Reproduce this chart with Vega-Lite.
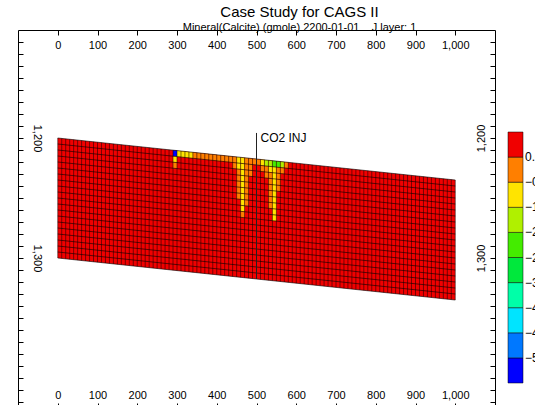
{
  "$schema": "https://vega.github.io/schema/vega-lite/v6.json",
  "width": 477,
  "height": 378,
  "autosize": {"type": "none"},
  "padding": {"left": 18, "top": 30, "right": 40, "bottom": 0},
  "background": "white",
  "config": {
    "font": "Liberation Sans",
    "view": {"stroke": null},
    "axis": {"domainColor": "#000", "tickColor": "#000", "labelColor": "#000", "labelFont": "Liberation Sans", "labelFontSize": 11, "grid": false, "title": null, "domainWidth": 1, "tickWidth": 1, "labelOverlap": false, "labelBound": false, "labelFlush": false}
  },
  "title": {
    "text": "Case Study for CAGS II",
    "subtitle": "Mineral(Calcite) (gmole) 2200-01-01\u00a0\u00a0\u00a0\u00a0J layer: 1",
    "fontSize": 15,
    "fontWeight": "normal",
    "subtitleFontSize": 11,
    "subtitleColor": "#000",
    "color": "#000",
    "anchor": "middle",
    "dx": 43,
    "offset": -3,
    "subtitlePadding": 2
  },
  "resolve": {"axis": {"x": "independent", "y": "independent"}},
  "layer": [
    {
      "data": {"values": [
        {"x": 0, "t": 1200, "b": 1300, "v": 0.35},
        {"x": 1000, "t": 1235, "b": 1335, "v": 0.35}
      ]},
      "mark": {"type": "area", "interpolate": "linear"},
      "encoding": {
        "x": {"field": "x", "type": "quantitative", "scale": {"domain": [-100, 1100], "nice": false, "zero": false},
          "axis": {"orient": "bottom", "values": [0, 100, 200, 300, 400, 500, 600, 700, 800, 900, 1000], "format": ",d", "tickSize": -5, "labelPadding": -8, "labelBaseline": "middle"}},
        "y": {"field": "t", "type": "quantitative", "scale": {"domain": [1110, 1425], "reverse": true, "nice": false, "zero": false},
          "axis": {"orient": "left", "values": [1120,1130,1140,1150,1160,1170,1180,1190,1200,1210,1220,1230,1240,1250,1260,1270,1280,1290,1300,1310,1320,1330,1340,1350,1360,1370,1380,1390,1400,1410,1420],
            "labelExpr": "datum.value == 1200 || datum.value == 1300 ? format(datum.value, ',') : ''", "tickSize": -5, "labelPadding": -19, "labelAngle": 90, "labelAlign": "center", "labelBaseline": "top"}},
        "y2": {"field": "b"},
        "color": {"field": "v", "type": "quantitative",
          "scale": {"type": "quantize", "domain": [-6.3, 0.7], "nice": false, "zero": false,
            "range": ["#0000ff", "#0078ff", "#00e4ff", "#00ffa8", "#00e83c", "#44ec00", "#b0f000", "#ffe400", "#ff7f00", "#f00000"]},
          "legend": {"type": "gradient", "orient": "none", "legendX": 490, "legendY": 102, "direction": "vertical", "gradientLength": 251, "gradientThickness": 15, "title": null,
            "labelFontSize": 12, "labelOffset": 2, "labelColor": "#000", "labelOverlap": false,
            "values": [-6.3, -5.6, -4.9, -4.2, -3.5, -2.8, -2.1, -1.4, -0.7, 0], "format": ".2f",
            "gradientStrokeColor": "#000", "gradientStrokeWidth": 0.5}}
      }
    },
    {
      "data": {"values": [
        {"x": 290, "x2": 300, "z": 1210.3, "z2": 1215.3, "v": -6.0},
        {"x": 300, "x2": 310, "z": 1210.7, "z2": 1215.7, "v": -1.0},
        {"x": 310, "x2": 320, "z": 1211.0, "z2": 1216.0, "v": -1.0},
        {"x": 320, "x2": 330, "z": 1211.4, "z2": 1216.4, "v": -1.0},
        {"x": 330, "x2": 340, "z": 1211.7, "z2": 1216.7, "v": -1.0},
        {"x": 340, "x2": 350, "z": 1212.1, "z2": 1217.1, "v": -0.4},
        {"x": 350, "x2": 360, "z": 1212.4, "z2": 1217.4, "v": -0.4},
        {"x": 360, "x2": 370, "z": 1212.8, "z2": 1217.8, "v": -0.4},
        {"x": 370, "x2": 380, "z": 1213.1, "z2": 1218.1, "v": -0.4},
        {"x": 380, "x2": 390, "z": 1213.5, "z2": 1218.5, "v": -0.4},
        {"x": 390, "x2": 400, "z": 1213.8, "z2": 1218.8, "v": -0.4},
        {"x": 400, "x2": 410, "z": 1214.2, "z2": 1219.2, "v": -0.4},
        {"x": 410, "x2": 420, "z": 1214.5, "z2": 1219.5, "v": -0.4},
        {"x": 420, "x2": 430, "z": 1214.9, "z2": 1219.9, "v": -0.4},
        {"x": 430, "x2": 440, "z": 1215.2, "z2": 1220.2, "v": -0.4},
        {"x": 440, "x2": 450, "z": 1215.6, "z2": 1220.6, "v": -0.4},
        {"x": 450, "x2": 460, "z": 1215.9, "z2": 1220.9, "v": -1.0},
        {"x": 460, "x2": 470, "z": 1216.3, "z2": 1221.3, "v": -1.0},
        {"x": 470, "x2": 480, "z": 1216.6, "z2": 1221.6, "v": -0.4},
        {"x": 480, "x2": 490, "z": 1217.0, "z2": 1222.0, "v": -0.4},
        {"x": 490, "x2": 500, "z": 1217.3, "z2": 1222.3, "v": -0.4},
        {"x": 500, "x2": 510, "z": 1217.7, "z2": 1222.7, "v": -0.4},
        {"x": 510, "x2": 520, "z": 1218.0, "z2": 1223.0, "v": -1.0},
        {"x": 520, "x2": 530, "z": 1218.4, "z2": 1223.4, "v": -1.6},
        {"x": 530, "x2": 540, "z": 1218.7, "z2": 1223.7, "v": -1.8},
        {"x": 540, "x2": 550, "z": 1219.1, "z2": 1224.1, "v": -2.3},
        {"x": 550, "x2": 560, "z": 1219.4, "z2": 1224.4, "v": -2.3},
        {"x": 560, "x2": 570, "z": 1219.8, "z2": 1224.8, "v": -1.8},
        {"x": 570, "x2": 580, "z": 1220.1, "z2": 1225.1, "v": -0.4},
        {"x": 290, "x2": 300, "z": 1215.3, "z2": 1220.3, "v": -1.0},
        {"x": 440, "x2": 450, "z": 1220.6, "z2": 1225.6, "v": -0.4},
        {"x": 450, "x2": 460, "z": 1220.9, "z2": 1225.9, "v": -1.0},
        {"x": 460, "x2": 470, "z": 1221.3, "z2": 1226.3, "v": -1.0},
        {"x": 470, "x2": 480, "z": 1221.6, "z2": 1226.6, "v": -0.4},
        {"x": 480, "x2": 490, "z": 1222.0, "z2": 1227.0, "v": -0.4},
        {"x": 510, "x2": 520, "z": 1223.0, "z2": 1228.0, "v": -0.4},
        {"x": 520, "x2": 530, "z": 1223.4, "z2": 1228.4, "v": -0.4},
        {"x": 530, "x2": 540, "z": 1223.7, "z2": 1228.7, "v": -1.0},
        {"x": 540, "x2": 550, "z": 1224.1, "z2": 1229.1, "v": -1.0},
        {"x": 550, "x2": 560, "z": 1224.4, "z2": 1229.4, "v": -0.4},
        {"x": 560, "x2": 570, "z": 1224.8, "z2": 1229.8, "v": -0.4},
        {"x": 290, "x2": 300, "z": 1220.3, "z2": 1225.3, "v": -0.4},
        {"x": 450, "x2": 460, "z": 1225.9, "z2": 1230.9, "v": -0.4},
        {"x": 460, "x2": 470, "z": 1226.3, "z2": 1231.3, "v": -1.0},
        {"x": 470, "x2": 480, "z": 1226.6, "z2": 1231.6, "v": -0.4},
        {"x": 480, "x2": 490, "z": 1227.0, "z2": 1232.0, "v": -0.4},
        {"x": 520, "x2": 530, "z": 1228.4, "z2": 1233.4, "v": -0.4},
        {"x": 530, "x2": 540, "z": 1228.7, "z2": 1233.7, "v": -0.4},
        {"x": 540, "x2": 550, "z": 1229.1, "z2": 1234.1, "v": -1.0},
        {"x": 550, "x2": 560, "z": 1229.4, "z2": 1234.4, "v": -0.4},
        {"x": 450, "x2": 460, "z": 1230.9, "z2": 1235.9, "v": -0.4},
        {"x": 460, "x2": 470, "z": 1231.3, "z2": 1236.3, "v": -1.0},
        {"x": 470, "x2": 480, "z": 1231.6, "z2": 1236.6, "v": -0.4},
        {"x": 530, "x2": 540, "z": 1233.7, "z2": 1238.7, "v": -0.4},
        {"x": 540, "x2": 550, "z": 1234.1, "z2": 1239.1, "v": -1.0},
        {"x": 550, "x2": 560, "z": 1234.4, "z2": 1239.4, "v": -0.4},
        {"x": 450, "x2": 460, "z": 1235.9, "z2": 1240.9, "v": -0.4},
        {"x": 460, "x2": 470, "z": 1236.3, "z2": 1241.3, "v": -1.0},
        {"x": 470, "x2": 480, "z": 1236.6, "z2": 1241.6, "v": -0.4},
        {"x": 530, "x2": 540, "z": 1238.7, "z2": 1243.7, "v": -0.4},
        {"x": 540, "x2": 550, "z": 1239.1, "z2": 1244.1, "v": -1.0},
        {"x": 550, "x2": 560, "z": 1239.4, "z2": 1244.4, "v": -0.4},
        {"x": 450, "x2": 460, "z": 1240.9, "z2": 1245.9, "v": -0.4},
        {"x": 460, "x2": 470, "z": 1241.3, "z2": 1246.3, "v": -1.0},
        {"x": 470, "x2": 480, "z": 1241.6, "z2": 1246.6, "v": -0.4},
        {"x": 530, "x2": 540, "z": 1243.7, "z2": 1248.7, "v": -0.4},
        {"x": 540, "x2": 550, "z": 1244.1, "z2": 1249.1, "v": -1.0},
        {"x": 450, "x2": 460, "z": 1245.9, "z2": 1250.9, "v": -0.4},
        {"x": 460, "x2": 470, "z": 1246.3, "z2": 1251.3, "v": -1.0},
        {"x": 470, "x2": 480, "z": 1246.6, "z2": 1251.6, "v": -0.4},
        {"x": 530, "x2": 540, "z": 1248.7, "z2": 1253.7, "v": -0.4},
        {"x": 540, "x2": 550, "z": 1249.1, "z2": 1254.1, "v": -1.0},
        {"x": 460, "x2": 470, "z": 1251.3, "z2": 1256.3, "v": -1.0},
        {"x": 470, "x2": 480, "z": 1251.6, "z2": 1256.6, "v": -0.4},
        {"x": 530, "x2": 540, "z": 1253.7, "z2": 1258.7, "v": -0.4},
        {"x": 540, "x2": 550, "z": 1254.1, "z2": 1259.1, "v": -1.0},
        {"x": 460, "x2": 470, "z": 1256.3, "z2": 1261.3, "v": -1.0},
        {"x": 540, "x2": 550, "z": 1259.1, "z2": 1264.1, "v": -1.0},
        {"x": 460, "x2": 470, "z": 1261.3, "z2": 1266.3, "v": -0.4},
        {"x": 540, "x2": 550, "z": 1264.1, "z2": 1269.1, "v": -1.0}
      ]},
      "mark": {"type": "rect"},
      "encoding": {
        "x": {"field": "x", "type": "quantitative",
          "axis": {"orient": "top", "values": [0, 100, 200, 300, 400, 500, 600, 700, 800, 900, 1000], "format": ",d", "tickSize": -5, "labelPadding": -10, "labelBaseline": "middle"}},
        "x2": {"field": "x2"},
        "y": {"field": "z", "type": "quantitative",
          "axis": {"orient": "right", "values": [1120,1130,1140,1150,1160,1170,1180,1190,1200,1210,1220,1230,1240,1250,1260,1270,1280,1290,1300,1310,1320,1330,1340,1350,1360,1370,1380,1390,1400,1410,1420],
            "labelExpr": "datum.value == 1200 || datum.value == 1300 ? format(datum.value, ',') : ''", "tickSize": -5, "labelPadding": -9, "labelAngle": 270, "labelAlign": "center", "labelBaseline": "middle"}},
        "y2": {"field": "z2"},
        "color": {"field": "v", "type": "quantitative",
          "scale": {"type": "quantize", "domain": [-6.3, 0.7], "nice": false, "zero": false,
            "range": ["#0000ff", "#0078ff", "#00e4ff", "#00ffa8", "#00e83c", "#44ec00", "#b0f000", "#ffe400", "#ff7f00", "#f00000"]},
          "legend": null}
      }
    },
    {
      "data": {"values": [
        {"x":0,"t":1200,"b":1300},{"x":10,"t":1200.35,"b":1300.35},{"x":20,"t":1200.7,"b":1300.7},{"x":30,"t":1201.05,"b":1301.05},{"x":40,"t":1201.4,"b":1301.4},
        {"x":50,"t":1201.75,"b":1301.75},{"x":60,"t":1202.1,"b":1302.1},{"x":70,"t":1202.45,"b":1302.45},{"x":80,"t":1202.8,"b":1302.8},{"x":90,"t":1203.15,"b":1303.15},
        {"x":100,"t":1203.5,"b":1303.5},{"x":110,"t":1203.85,"b":1303.85},{"x":120,"t":1204.2,"b":1304.2},{"x":130,"t":1204.55,"b":1304.55},{"x":140,"t":1204.9,"b":1304.9},
        {"x":150,"t":1205.25,"b":1305.25},{"x":160,"t":1205.6,"b":1305.6},{"x":170,"t":1205.95,"b":1305.95},{"x":180,"t":1206.3,"b":1306.3},{"x":190,"t":1206.65,"b":1306.65},
        {"x":200,"t":1207,"b":1307},{"x":210,"t":1207.35,"b":1307.35},{"x":220,"t":1207.7,"b":1307.7},{"x":230,"t":1208.05,"b":1308.05},{"x":240,"t":1208.4,"b":1308.4},
        {"x":250,"t":1208.75,"b":1308.75},{"x":260,"t":1209.1,"b":1309.1},{"x":270,"t":1209.45,"b":1309.45},{"x":280,"t":1209.8,"b":1309.8},{"x":290,"t":1210.15,"b":1310.15},
        {"x":300,"t":1210.5,"b":1310.5},{"x":310,"t":1210.85,"b":1310.85},{"x":320,"t":1211.2,"b":1311.2},{"x":330,"t":1211.55,"b":1311.55},{"x":340,"t":1211.9,"b":1311.9},
        {"x":350,"t":1212.25,"b":1312.25},{"x":360,"t":1212.6,"b":1312.6},{"x":370,"t":1212.95,"b":1312.95},{"x":380,"t":1213.3,"b":1313.3},{"x":390,"t":1213.65,"b":1313.65},
        {"x":400,"t":1214,"b":1314},{"x":410,"t":1214.35,"b":1314.35},{"x":420,"t":1214.7,"b":1314.7},{"x":430,"t":1215.05,"b":1315.05},{"x":440,"t":1215.4,"b":1315.4},
        {"x":450,"t":1215.75,"b":1315.75},{"x":460,"t":1216.1,"b":1316.1},{"x":470,"t":1216.45,"b":1316.45},{"x":480,"t":1216.8,"b":1316.8},{"x":490,"t":1217.15,"b":1317.15},
        {"x":500,"t":1217.5,"b":1317.5},{"x":510,"t":1217.85,"b":1317.85},{"x":520,"t":1218.2,"b":1318.2},{"x":530,"t":1218.55,"b":1318.55},{"x":540,"t":1218.9,"b":1318.9},
        {"x":550,"t":1219.25,"b":1319.25},{"x":560,"t":1219.6,"b":1319.6},{"x":570,"t":1219.95,"b":1319.95},{"x":580,"t":1220.3,"b":1320.3},{"x":590,"t":1220.65,"b":1320.65},
        {"x":600,"t":1221,"b":1321},{"x":610,"t":1221.35,"b":1321.35},{"x":620,"t":1221.7,"b":1321.7},{"x":630,"t":1222.05,"b":1322.05},{"x":640,"t":1222.4,"b":1322.4},
        {"x":650,"t":1222.75,"b":1322.75},{"x":660,"t":1223.1,"b":1323.1},{"x":670,"t":1223.45,"b":1323.45},{"x":680,"t":1223.8,"b":1323.8},{"x":690,"t":1224.15,"b":1324.15},
        {"x":700,"t":1224.5,"b":1324.5},{"x":710,"t":1224.85,"b":1324.85},{"x":720,"t":1225.2,"b":1325.2},{"x":730,"t":1225.55,"b":1325.55},{"x":740,"t":1225.9,"b":1325.9},
        {"x":750,"t":1226.25,"b":1326.25},{"x":760,"t":1226.6,"b":1326.6},{"x":770,"t":1226.95,"b":1326.95},{"x":780,"t":1227.3,"b":1327.3},{"x":790,"t":1227.65,"b":1327.65},
        {"x":800,"t":1228,"b":1328},{"x":810,"t":1228.35,"b":1328.35},{"x":820,"t":1228.7,"b":1328.7},{"x":830,"t":1229.05,"b":1329.05},{"x":840,"t":1229.4,"b":1329.4},
        {"x":850,"t":1229.75,"b":1329.75},{"x":860,"t":1230.1,"b":1330.1},{"x":870,"t":1230.45,"b":1330.45},{"x":880,"t":1230.8,"b":1330.8},{"x":890,"t":1231.15,"b":1331.15},
        {"x":900,"t":1231.5,"b":1331.5},{"x":910,"t":1231.85,"b":1331.85},{"x":920,"t":1232.2,"b":1332.2},{"x":930,"t":1232.55,"b":1332.55},{"x":940,"t":1232.9,"b":1332.9},
        {"x":950,"t":1233.25,"b":1333.25},{"x":960,"t":1233.6,"b":1333.6},{"x":970,"t":1233.95,"b":1333.95},{"x":980,"t":1234.3,"b":1334.3},{"x":990,"t":1234.65,"b":1334.65},
        {"x":1000,"t":1235,"b":1335}
      ]},
      "mark": {"type": "rule", "stroke": "#000", "strokeWidth": 0.5},
      "encoding": {
        "x": {"field": "x", "type": "quantitative", "axis": null},
        "y": {"field": "t", "type": "quantitative", "axis": null},
        "y2": {"field": "b"}
      }
    },
    {
      "data": {"values": [
        {"z":1200,"z2":1235},{"z":1205,"z2":1240},{"z":1210,"z2":1245},{"z":1215,"z2":1250},{"z":1220,"z2":1255},
        {"z":1225,"z2":1260},{"z":1230,"z2":1265},{"z":1235,"z2":1270},{"z":1240,"z2":1275},{"z":1245,"z2":1280},
        {"z":1250,"z2":1285},{"z":1255,"z2":1290},{"z":1260,"z2":1295},{"z":1265,"z2":1300},{"z":1270,"z2":1305},
        {"z":1275,"z2":1310},{"z":1280,"z2":1315},{"z":1285,"z2":1320},{"z":1290,"z2":1325},{"z":1295,"z2":1330},
        {"z":1300,"z2":1335}
      ]},
      "mark": {"type": "rule", "stroke": "#000", "strokeWidth": 0.6},
      "encoding": {
        "x": {"datum": 0, "type": "quantitative", "axis": null},
        "x2": {"datum": 1000},
        "y": {"field": "z", "type": "quantitative", "axis": null},
        "y2": {"field": "z2"}
      }
    },
    {
      "data": {"values": [{"x": 500, "t": 1195.8, "b": 1317.5, "label": "CO2 INJ"}]},
      "layer": [
        {
          "mark": {"type": "rule", "stroke": "#222", "strokeWidth": 1},
          "encoding": {
            "x": {"field": "x", "type": "quantitative", "axis": null},
            "y": {"field": "t", "type": "quantitative", "axis": null},
            "y2": {"field": "b"}
          }
        },
        {
          "mark": {"type": "text", "align": "left", "baseline": "top", "dx": 4, "dy": 0, "fontSize": 12, "color": "#000", "font": "Liberation Sans"},
          "encoding": {
            "x": {"field": "x", "type": "quantitative", "axis": null},
            "y": {"field": "t", "type": "quantitative", "axis": null},
            "text": {"field": "label"}
          }
        }
      ]
    }
  ]
}
